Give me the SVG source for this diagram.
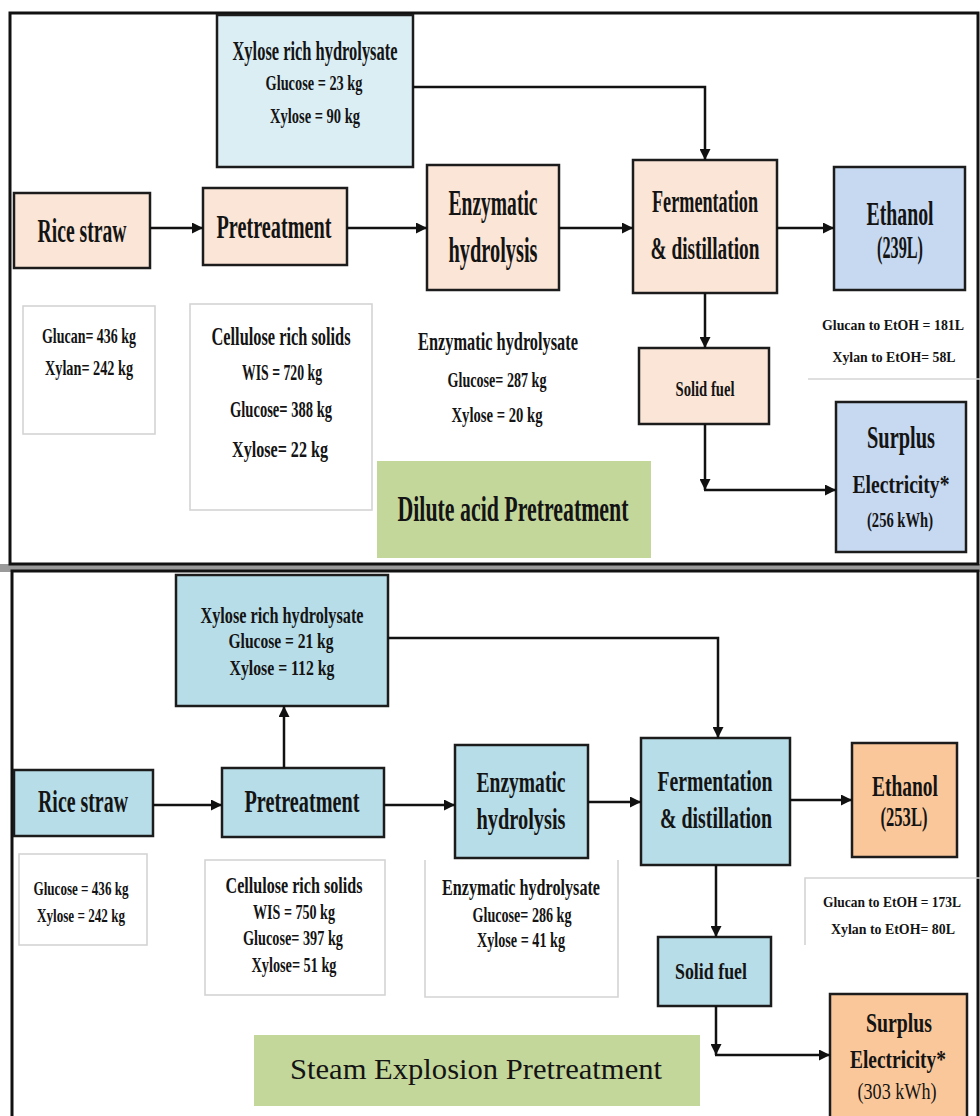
<svg xmlns="http://www.w3.org/2000/svg" width="980" height="1116" viewBox="0 0 980 1116">
<style>
.t{font-family:"Liberation Serif","Times New Roman",serif;font-weight:bold;fill:#141414;text-anchor:middle}
.r{font-family:"Liberation Serif","Times New Roman",serif;font-weight:normal;fill:#141414;text-anchor:middle}
.box{stroke:#1c1c1c;stroke-width:2.5}
.pe{fill:#fbe5d6}
.lb{fill:#dbeef4}
.bl{fill:#c6d9f1}
.sb{fill:#b7dde8}
.or{fill:#fac79a}
.gr{fill:#c4d79b}
.ann{fill:#ffffff;stroke:#d4d4d4;stroke-width:1.6}
.gl{fill:none;stroke:#d4d4d4;stroke-width:1.6}
.frame{fill:#ffffff;stroke:#111;stroke-width:3}
.c{fill:none;stroke:#111;stroke-width:2.5}
</style>
<defs>
<marker id="ah" viewBox="0 0 10 10" refX="10" refY="5" markerWidth="4.4" markerHeight="4.4" orient="auto" markerUnits="strokeWidth">
<path d="M0,0 L10,5 L0,10 Z" fill="#111"/>
</marker>
</defs>
<rect x="0" y="0" width="980" height="1116" fill="#ffffff"/>
<rect x="0" y="564" width="980" height="8" fill="#9a9a9a"/>
<rect id="panel-top" class="frame" x="10" y="13" width="968" height="551"/>
<rect id="panel-bottom" class="frame" x="12" y="571" width="966" height="560"/>

<!-- ===== TOP PANEL ===== -->
<g id="t-xylose">
<rect class="box lb" x="217" y="15" width="196" height="152"/>
<text class="t" x="315" y="60" font-size="27" textLength="165" lengthAdjust="spacingAndGlyphs">Xylose rich hydrolysate</text>
<text class="t" x="314" y="90" font-size="22" textLength="97" lengthAdjust="spacingAndGlyphs">Glucose = 23 kg</text>
<text class="t" x="315" y="123" font-size="22" textLength="90" lengthAdjust="spacingAndGlyphs">Xylose = 90 kg</text>
</g>
<g id="t-rice">
<rect class="box pe" x="14" y="193" width="136" height="75"/>
<text class="t" x="82" y="242" font-size="33" textLength="89" lengthAdjust="spacingAndGlyphs">Rice straw</text>
</g>
<g id="t-pre">
<rect class="box pe" x="203" y="188" width="144" height="77"/>
<text class="t" x="274" y="238" font-size="33" textLength="115" lengthAdjust="spacingAndGlyphs">Pretreatment</text>
</g>
<g id="t-enz">
<rect class="box pe" x="427" y="165" width="132" height="125"/>
<text class="t" x="493" y="215" font-size="35" textLength="89" lengthAdjust="spacingAndGlyphs">Enzymatic</text>
<text class="t" x="493" y="262" font-size="35" textLength="89" lengthAdjust="spacingAndGlyphs">hydrolysis</text>
</g>
<g id="t-ferm">
<rect class="box pe" x="633" y="160" width="144" height="133"/>
<text class="t" x="705" y="212" font-size="31" textLength="106" lengthAdjust="spacingAndGlyphs">Fermentation</text>
<text class="t" x="705" y="259" font-size="31" textLength="109" lengthAdjust="spacingAndGlyphs">&amp; distillation</text>
</g>
<g id="t-eth">
<rect class="box bl" x="834" y="167" width="131" height="123"/>
<text class="t" x="900" y="225" font-size="33" textLength="67" lengthAdjust="spacingAndGlyphs">Ethanol</text>
<text class="t" x="900" y="258" font-size="31" textLength="46" lengthAdjust="spacingAndGlyphs">(239L)</text>
</g>
<g id="t-solid">
<rect class="box pe" x="639" y="348" width="130" height="76"/>
<text class="t" x="705" y="396" font-size="22" textLength="59" lengthAdjust="spacingAndGlyphs">Solid fuel</text>
</g>
<g id="t-surplus">
<rect class="box bl" x="836" y="402" width="130" height="150"/>
<text class="t" x="901" y="448" font-size="31" textLength="68" lengthAdjust="spacingAndGlyphs">Surplus</text>
<text class="t" x="901" y="493" font-size="25" textLength="97" lengthAdjust="spacingAndGlyphs">Electricity*</text>
<text class="t" x="900" y="527" font-size="22" textLength="66" lengthAdjust="spacingAndGlyphs">(256 kWh)</text>
</g>
<g id="t-feed">
<rect class="ann" x="23" y="306" width="132" height="128"/>
<text class="t" x="89" y="343" font-size="22" textLength="94" lengthAdjust="spacingAndGlyphs">Glucan= 436 kg</text>
<text class="t" x="89" y="375" font-size="22" textLength="88" lengthAdjust="spacingAndGlyphs">Xylan= 242 kg</text>
</g>
<g id="t-cellulose">
<rect class="ann" x="190" y="304" width="182" height="206"/>
<text class="t" x="281" y="345" font-size="25" textLength="139" lengthAdjust="spacingAndGlyphs">Cellulose rich solids</text>
<text class="t" x="282" y="380" font-size="23" textLength="80" lengthAdjust="spacingAndGlyphs">WIS = 720 kg</text>
<text class="t" x="281" y="417" font-size="23" textLength="102" lengthAdjust="spacingAndGlyphs">Glucose= 388 kg</text>
<text class="t" x="280" y="457" font-size="23" textLength="96" lengthAdjust="spacingAndGlyphs">Xylose= 22 kg</text>
</g>
<g id="t-enzhyd">
<text class="t" x="498" y="350" font-size="26" textLength="160" lengthAdjust="spacingAndGlyphs">Enzymatic hydrolysate</text>
<text class="t" x="497" y="387" font-size="22" textLength="99" lengthAdjust="spacingAndGlyphs">Glucose= 287 kg</text>
<text class="t" x="497" y="422" font-size="22" textLength="91" lengthAdjust="spacingAndGlyphs">Xylose = 20 kg</text>
</g>
<g id="t-ethyield">
<line class="gl" x1="808" y1="379" x2="980" y2="379"/>
<text class="t" x="893" y="330" font-size="15" textLength="142" lengthAdjust="spacingAndGlyphs">Glucan to EtOH = 181L</text>
<text class="t" x="894" y="362" font-size="15" textLength="123" lengthAdjust="spacingAndGlyphs">Xylan to EtOH= 58L</text>
</g>
<g id="t-label">
<rect class="gr" x="377" y="461" width="274" height="97"/>
<text class="t" x="513" y="521" font-size="36" textLength="231" lengthAdjust="spacingAndGlyphs">Dilute acid Pretreatment</text>
</g>

<!-- ===== BOTTOM PANEL ===== -->
<g id="b-xylose">
<rect class="box sb" x="176" y="575" width="212" height="131"/>
<text class="t" x="282" y="623" font-size="24" textLength="163" lengthAdjust="spacingAndGlyphs">Xylose rich hydrolysate</text>
<text class="t" x="281" y="648" font-size="21" textLength="105" lengthAdjust="spacingAndGlyphs">Glucose = 21 kg</text>
<text class="t" x="282" y="675" font-size="21" textLength="105" lengthAdjust="spacingAndGlyphs">Xylose = 112 kg</text>
</g>
<g id="b-rice">
<rect class="box sb" x="14" y="770" width="139" height="66"/>
<text class="t" x="83" y="812" font-size="31" textLength="90" lengthAdjust="spacingAndGlyphs">Rice straw</text>
</g>
<g id="b-pre">
<rect class="box sb" x="222" y="768" width="162" height="69"/>
<text class="t" x="302" y="812" font-size="31" textLength="115" lengthAdjust="spacingAndGlyphs">Pretreatment</text>
</g>
<g id="b-enz">
<rect class="box sb" x="455" y="745" width="133" height="113"/>
<text class="t" x="521" y="792" font-size="30" textLength="89" lengthAdjust="spacingAndGlyphs">Enzymatic</text>
<text class="t" x="521" y="829" font-size="30" textLength="89" lengthAdjust="spacingAndGlyphs">hydrolysis</text>
</g>
<g id="b-ferm">
<rect class="box sb" x="641" y="738" width="149" height="127"/>
<text class="t" x="715" y="791" font-size="30" textLength="115" lengthAdjust="spacingAndGlyphs">Fermentation</text>
<text class="t" x="716" y="828" font-size="30" textLength="112" lengthAdjust="spacingAndGlyphs">&amp; distillation</text>
</g>
<g id="b-eth">
<rect class="box or" x="852" y="743" width="105" height="114"/>
<text class="t" x="905" y="796" font-size="29" textLength="66" lengthAdjust="spacingAndGlyphs">Ethanol</text>
<text class="t" x="904" y="826" font-size="27" textLength="47" lengthAdjust="spacingAndGlyphs">(253L)</text>
</g>
<g id="b-solid">
<rect class="box sb" x="658" y="937" width="113" height="69"/>
<text class="t" x="711" y="979" font-size="24" textLength="72" lengthAdjust="spacingAndGlyphs">Solid fuel</text>
</g>
<g id="b-surplus">
<rect class="box or" x="830" y="994" width="137" height="130"/>
<text class="t" x="899" y="1032" font-size="28" textLength="66" lengthAdjust="spacingAndGlyphs">Surplus</text>
<text class="t" x="898" y="1068" font-size="26" textLength="96" lengthAdjust="spacingAndGlyphs">Electricity*</text>
<text class="r" x="897" y="1099" font-size="23" textLength="79" lengthAdjust="spacingAndGlyphs">(303 kWh)</text>
</g>
<g id="b-feed">
<rect class="ann" x="19" y="854" width="128" height="91"/>
<text class="t" x="81" y="895" font-size="19" textLength="95" lengthAdjust="spacingAndGlyphs">Glucose = 436 kg</text>
<text class="t" x="81" y="922" font-size="19" textLength="88" lengthAdjust="spacingAndGlyphs">Xylose = 242 kg</text>
</g>
<g id="b-cellulose">
<rect class="ann" x="205" y="860" width="180" height="135"/>
<text class="t" x="294" y="893" font-size="24" textLength="137" lengthAdjust="spacingAndGlyphs">Cellulose rich solids</text>
<text class="t" x="294" y="919" font-size="21" textLength="82" lengthAdjust="spacingAndGlyphs">WIS = 750 kg</text>
<text class="t" x="293" y="945" font-size="21" textLength="100" lengthAdjust="spacingAndGlyphs">Glucose= 397 kg</text>
<text class="t" x="294" y="972" font-size="21" textLength="85" lengthAdjust="spacingAndGlyphs">Xylose= 51 kg</text>
</g>
<g id="b-enzhyd">
<polyline class="gl" points="425,860 425,997 618,997 618,860"/>
<text class="t" x="521" y="895" font-size="23" textLength="158" lengthAdjust="spacingAndGlyphs">Enzymatic hydrolysate</text>
<text class="t" x="522" y="922" font-size="20" textLength="99" lengthAdjust="spacingAndGlyphs">Glucose= 286 kg</text>
<text class="t" x="521" y="947" font-size="20" textLength="88" lengthAdjust="spacingAndGlyphs">Xylose = 41 kg</text>
</g>
<g id="b-ethyield">
<polyline class="gl" points="805,945 805,878 980,878"/>
<text class="t" x="892" y="907" font-size="15" textLength="138" lengthAdjust="spacingAndGlyphs">Glucan to EtOH = 173L</text>
<text class="t" x="893" y="934" font-size="15" textLength="124" lengthAdjust="spacingAndGlyphs">Xylan to EtOH= 80L</text>
</g>
<g id="b-label">
<rect class="gr" x="254" y="1035" width="446" height="71"/>
<text class="r" x="476" y="1079" font-size="30" textLength="372" lengthAdjust="spacingAndGlyphs">Steam Explosion Pretreatment</text>
</g>

<!-- ===== CONNECTORS ===== -->
<g id="connectors">
<line class="c" x1="150" y1="228" x2="203" y2="228" marker-end="url(#ah)"/>
<line class="c" x1="347" y1="228" x2="427" y2="228" marker-end="url(#ah)"/>
<line class="c" x1="559" y1="228" x2="633" y2="228" marker-end="url(#ah)"/>
<line class="c" x1="777" y1="228" x2="834" y2="228" marker-end="url(#ah)"/>
<polyline class="c" points="413,87 705,87 705,160" marker-end="url(#ah)"/>
<line class="c" x1="705" y1="293" x2="705" y2="348" marker-end="url(#ah)"/>
<line class="c" x1="705" y1="424" x2="705" y2="490" marker-end="url(#ah)"/>
<line class="c" x1="704" y1="490" x2="836" y2="490" marker-end="url(#ah)"/>

<line class="c" x1="153" y1="805" x2="222" y2="805" marker-end="url(#ah)"/>
<line class="c" x1="384" y1="805" x2="455" y2="805" marker-end="url(#ah)"/>
<line class="c" x1="588" y1="802" x2="641" y2="802" marker-end="url(#ah)"/>
<line class="c" x1="790" y1="800" x2="852" y2="800" marker-end="url(#ah)"/>
<line class="c" x1="284" y1="768" x2="284" y2="706" marker-end="url(#ah)"/>
<polyline class="c" points="388,638 718,638 718,738" marker-end="url(#ah)"/>
<line class="c" x1="716" y1="865" x2="716" y2="937" marker-end="url(#ah)"/>
<line class="c" x1="716" y1="1006" x2="716" y2="1055" marker-end="url(#ah)"/>
<line class="c" x1="715" y1="1055" x2="830" y2="1055" marker-end="url(#ah)"/>
</g>
</svg>
